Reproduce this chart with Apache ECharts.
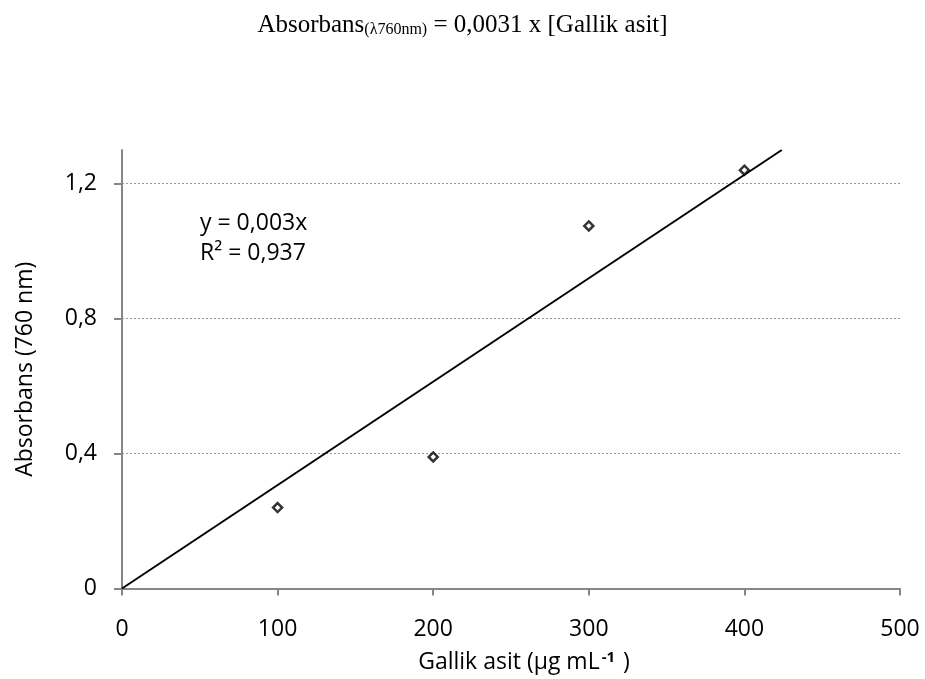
<!DOCTYPE html>
<html>
<head>
<meta charset="utf-8">
<script src="https://cdn.jsdelivr.net/npm/echarts@6/dist/echarts.min.js"></script>
<style>
  html, body { margin: 0; padding: 0; background: #fff; }
  #chart { width: 925px; height: 679px; }
</style>
</head>
<body>
<div id="chart"></div>
<script>
// measured points
var concentrations = [100, 200, 300, 400]
var absorbances = [0.24, 0.39, 1.075, 1.24]
// linear trendline (through origin), drawn to the top of the plot
var trendX = [0, 424]
var trendY = [0, 1.3]
var xTicks = [0, 100, 200, 300, 400, 500]
var yTicks = [0, 0.4, 0.8, 1.2]

var points = concentrations.map(function (c, i) { return [c, absorbances[i]] })
var trend = trendX.map(function (x, i) { return [x, trendY[i]] })

var labelFont = '"Open Sans", "Noto Sans", sans-serif'
var serifFont = '"Liberation Serif", "Times New Roman", serif'
var axisGray = '#868686'

var chart = echarts.init(document.getElementById('chart'))
chart.setOption({
  animation: false,
  title: {
    text: 'Absorbans{sub|(λ760nm)} = 0,0031 x [Gallik asit]',
    left: 'center',
    top: 8,
    textStyle: {
      fontFamily: serifFont,
      fontSize: 25,
      fontWeight: 'normal',
      color: '#000',
      rich: {
        sub: {
          fontFamily: serifFont,
          fontSize: 16,
          verticalAlign: 'bottom',
          padding: [9, 0, 0, 0],
          color: '#000'
        }
      }
    }
  },
  grid: { left: 122, right: 25, top: 150, bottom: 90 },
  xAxis: {
    type: 'value',
    min: xTicks[0],
    max: xTicks[xTicks.length - 1],
    interval: 100,
    name: 'Gallik asit (µg mL{sup|-1} )',
    nameLocation: 'middle',
    nameGap: 62,
    nameTextStyle: {
      fontFamily: labelFont,
      fontSize: 23,
      color: '#000',
      padding: [0, 0, 0, 26],
      rich: {
        sup: { fontFamily: labelFont, fontSize: 15, fontWeight: 'bold', verticalAlign: 'top', padding: [0, 2, 9, 2], color: '#000' }
      }
    },
    axisLine: { show: true, lineStyle: { color: axisGray, width: 2 } },
    axisTick: { show: true, length: 7, lineStyle: { color: axisGray, width: 2 } },
    axisLabel: { margin: 29, fontFamily: labelFont, fontSize: 23, color: '#000' },
    splitLine: { show: false }
  },
  yAxis: {
    type: 'value',
    min: yTicks[0],
    max: 1.3,
    interval: 0.4,
    name: 'Absorbans (760 nm)',
    nameLocation: 'middle',
    nameGap: 85,
    nameTextStyle: { fontFamily: labelFont, fontSize: 23, color: '#000' },
    axisLine: { show: true, lineStyle: { color: axisGray, width: 2 } },
    axisTick: { show: true, length: 8, lineStyle: { color: axisGray, width: 2 } },
    axisLabel: {
      margin: 25,
      fontFamily: labelFont,
      fontSize: 23,
      color: '#000',
      showMaxLabel: false,
      formatter: function (v) { return yTicks.indexOf(v) >= 0 ? String(v).replace('.', ',') : '' }
    },
    splitLine: {
      show: true,
      showMinLine: false,
      showMaxLine: false,
      lineStyle: { color: '#999', type: [2, 2], width: 1 }
    }
  },
  graphic: [{
    type: 'text',
    left: 200,
    top: 208,
    style: {
      text: 'y = 0,003x\nR² = 0,937',
      fontFamily: labelFont,
      fontSize: 23,
      lineHeight: 30,
      fill: '#000'
    }
  }],
  series: [
    {
      type: 'line',
      data: trend,
      symbol: 'none',
      lineStyle: { color: '#000', width: 2 },
      z: 2
    },
    {
      type: 'scatter',
      data: points,
      symbol: 'diamond',
      symbolSize: 9,
      itemStyle: { color: '#fff', borderColor: '#000', borderWidth: 2.5 },
      z: 3
    }
  ]
})
</script>
</body>
</html>
